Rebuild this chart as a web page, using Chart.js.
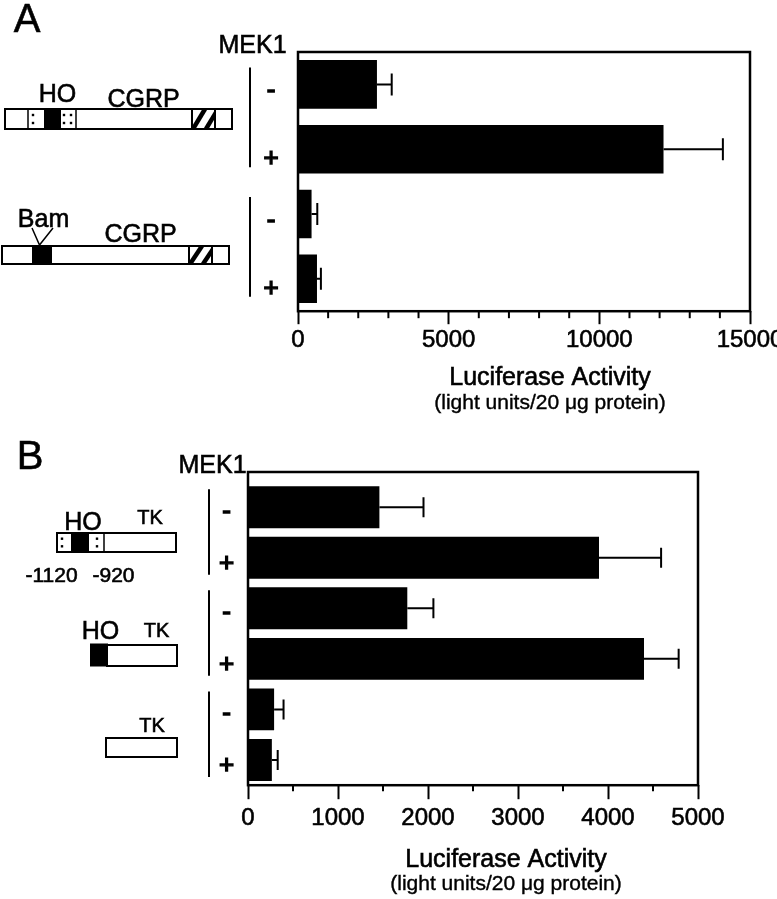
<!DOCTYPE html>
<html>
<head>
<meta charset="utf-8">
<script src="https://cdn.jsdelivr.net/npm/chart.js@4"></script>
<style>
  html, body { margin: 0; padding: 0; background: #fff; overflow: hidden; }
  #wrap { position: relative; width: 777px; height: 899px; overflow: hidden; }
  canvas { position: absolute; left: 0; }
</style>
</head>
<body>
<div id="wrap">
  <canvas id="chartA" width="800" height="440" style="top:0px"></canvas>
  <canvas id="chartB" width="800" height="459" style="top:440px"></canvas>
</div>
<script>
// panel A : HO-CGRP and Bam-CGRP constructs
var mekA = ['-', '+', '-', '+']
var valuesA = [2620, 12130, 450, 630]
var errorsA = [490, 1970, 190, 130]
var ticksA = [0, 5000, 10000, 15000]

// panel B : HO-TK, HO-TK (short) and TK alone
var mekB = ['-', '+', '-', '+', '-', '+']
var valuesB = [1460, 3900, 1770, 4400, 290, 265]
var errorsB = [490, 690, 290, 385, 105, 65]
var ticksB = [0, 1000, 2000, 3000, 4000, 5000]

var FONT = '"Liberation Sans", Arial, Helvetica, sans-serif'

function txt (ctx, s, x, y, size, stroke) {
  ctx.save()
  ctx.font = size + 'px ' + FONT
  ctx.fillStyle = '#000'
  ctx.strokeStyle = '#000'
  ctx.lineWidth = stroke || 0.6
  ctx.textAlign = 'center'
  ctx.textBaseline = 'alphabetic'
  ctx.fillText(s, x, y)
  ctx.strokeText(s, x, y)
  ctx.restore()
}

function box (ctx, x1, y1, x2, y2, fill) {
  ctx.save()
  ctx.lineWidth = 2
  ctx.strokeStyle = '#000'
  if (fill) { ctx.fillStyle = fill; ctx.fillRect(x1, y1, x2 - x1, y2 - y1) }
  ctx.strokeRect(x1, y1, x2 - x1, y2 - y1)
  ctx.restore()
}

function vline (ctx, x, y1, y2, w) {
  ctx.save()
  ctx.lineWidth = w || 2
  ctx.strokeStyle = '#000'
  ctx.beginPath()
  ctx.moveTo(x, y1)
  ctx.lineTo(x, y2)
  ctx.stroke()
  ctx.restore()
}

// two dots in a column, like the scan
function dots (ctx, x, y1, y2) {
  var h = y2 - y1
  ctx.save()
  ctx.fillStyle = '#000'
  ctx.fillRect(x - 1.2, y1 + h * 0.3 - 1.2, 2.4, 2.4)
  ctx.fillRect(x - 1.2, y1 + h * 0.7 - 1.2, 2.4, 2.4)
  ctx.restore()
}

function hatch (ctx, x1, y1, x2, y2) {
  ctx.save()
  ctx.beginPath()
  ctx.rect(x1, y1, x2 - x1, y2 - y1)
  ctx.clip()
  ctx.lineWidth = 4.5
  ctx.strokeStyle = '#000'
  for (var x = x1 + 1; x < x2 + 14; x += 13) {
    ctx.beginPath()
    ctx.moveTo(x, y2)
    ctx.lineTo(x + 12, y1)
    ctx.stroke()
  }
  ctx.restore()
  box(ctx, x1, y1, x2, y2)
}

// frame, minor ticks, error bars, MEK1 signs and brackets
function panelPlugin (cfg) {
  return {
    id: 'panel' + cfg.name,
    afterDatasetsDraw: function (chart) {
      var ctx = chart.ctx
      var xs = chart.scales.x
      var meta = chart.getDatasetMeta(0)
      ctx.save()
      ctx.strokeStyle = '#000'
      ctx.lineWidth = 2
      meta.data.forEach(function (bar, i) {
        var v = chart.data.datasets[0].data[i]
        var xe = xs.getPixelForValue(v + cfg.errors[i])
        ctx.beginPath()
        ctx.moveTo(bar.x, bar.y)
        ctx.lineTo(xe, bar.y)
        ctx.moveTo(xe, bar.y - cfg.cap / 2)
        ctx.lineTo(xe, bar.y + cfg.cap / 2)
        ctx.stroke()
      })
      ctx.restore()
    },
    afterDraw: function (chart) {
      var ctx = chart.ctx
      var a = chart.chartArea
      var xs = chart.scales.x
      var ys = chart.scales.y
      // box round the plot
      ctx.save()
      ctx.lineWidth = 2.5
      ctx.strokeStyle = '#000'
      ctx.strokeRect(a.left, a.top - cfg.frameExtra, a.right - a.left, a.bottom - a.top + cfg.frameExtra)
      // short minor ticks
      ctx.lineWidth = 2
      xs.ticks.forEach(function (t) {
        if (t.value % cfg.major !== 0) {
          var px = xs.getPixelForValue(t.value)
          ctx.beginPath()
          ctx.moveTo(px, a.bottom)
          ctx.lineTo(px, a.bottom + cfg.minorLen)
          ctx.stroke()
        }
      })
      ctx.restore()
      // - / + signs and brackets
      chart.data.labels.forEach(function (s, i) {
        var c = ys.getPixelForValue(i)
        var off = s === '-' ? cfg.minusOff : cfg.plusOff
        txt(ctx, s, cfg.signX, c + off, 26, 1.4)
        if (i % 2 === 0) {
          var c2 = ys.getPixelForValue(i + 1)
          vline(ctx, cfg.bracketX, c - cfg.brTop, c2 + cfg.brBottom, 2)
        }
      })
      // axis title
      txt(ctx, 'Luciferase Activity', cfg.titleX, cfg.titleY, 25)
      txt(ctx, '(light units/20 \u03bcg protein)', cfg.titleX, cfg.subY, 21, 0.4)
      cfg.extra(ctx)
    }
  }
}

function makeChart (id, labels, values, maxX, step, major, pad, tickPad, tickLen, barPct, plugin) {
  return new Chart(document.getElementById(id).getContext('2d'), {
    type: 'bar',
    data: {
      labels: labels,
      datasets: [{
        data: values,
        backgroundColor: '#000',
        borderWidth: 0,
        barPercentage: barPct,
        categoryPercentage: 1
      }]
    },
    options: {
      indexAxis: 'y',
      responsive: false,
      animation: false,
      layout: { padding: pad },
      plugins: { legend: { display: false }, tooltip: { enabled: false } },
      scales: {
        x: {
          min: 0,
          max: maxX,
          border: { display: false },
          grid: {
            drawOnChartArea: false,
            drawTicks: true,
            tickLength: tickLen,
            tickWidth: 2,
            tickColor: function (c) {
              return c.tick && c.tick.value % major === 0 ? '#000' : 'rgba(0,0,0,0)'
            }
          },
          ticks: {
            stepSize: step,
            autoSkip: false,
            maxRotation: 0,
            padding: tickPad,
            color: '#000',
            textStrokeColor: '#000',
            textStrokeWidth: 0.6,
            font: { family: FONT, size: 24 },
            callback: function (v) { return v % major === 0 ? String(v) : '' }
          }
        },
        y: { display: false }
      }
    },
    plugins: [plugin]
  })
}

// panel A
makeChart('chartA', mekA, valuesA, 15000, 1000, 5000,
  { left: 298, right: 50, top: 52, bottom: 83 }, 2, 13, 0.75,
  panelPlugin({
    name: 'A', errors: errorsA, cap: 22, frameExtra: 0, major: 5000, minorLen: 7,
    signX: 271, minusOff: 14, plusOff: 17, bracketX: 250, brTop: 17, brBottom: 18,
    titleX: 550, titleY: 385, subY: 409,
    extra: function (ctx) {
      txt(ctx, 'A', 27, 32, 40)
      txt(ctx, 'MEK1', 252.5, 53, 25)
      // HO-CGRP construct
      box(ctx, 5, 109, 232, 129, '#fff')
      vline(ctx, 28, 109, 129, 1.5)
      dots(ctx, 33, 109, 129)
      box(ctx, 45, 109, 60, 129, '#000')
      dots(ctx, 64, 109, 129)
      dots(ctx, 71, 109, 129)
      vline(ctx, 76, 109, 129, 1.5)
      hatch(ctx, 192, 109, 215, 129)
      txt(ctx, 'HO', 57.5, 102, 25)
      txt(ctx, 'CGRP', 143.5, 107, 25)
      // Bam-CGRP construct
      box(ctx, 2, 246, 229, 264, '#fff')
      box(ctx, 33, 246, 51, 264, '#000')
      hatch(ctx, 189, 246, 212, 264)
      ctx.save()
      ctx.lineWidth = 1.5
      ctx.beginPath()
      ctx.moveTo(32, 228)
      ctx.lineTo(39.5, 245)
      ctx.lineTo(53, 228)
      ctx.stroke()
      ctx.restore()
      txt(ctx, 'Bam', 43.5, 227, 25)
      txt(ctx, 'CGRP', 140.5, 242, 25)
    }
  }))

// panel B (canvas starts at y = 440)
makeChart('chartB', mekB, valuesB, 5000, 500, 1000,
  { left: 248, right: 102, top: 42, bottom: 61 }, 5, 14, 0.83,
  panelPlugin({
    name: 'B', errors: errorsB, cap: 20, frameExtra: 10, major: 1000, minorLen: 6,
    signX: 226.5, minusOff: 12, plusOff: 13, bracketX: 209, brTop: 18, brBottom: 17,
    titleX: 506, titleY: 427, subY: 450,
    extra: function (ctx) {
      txt(ctx, 'B', 30, 29, 40)
      txt(ctx, 'MEK1', 212.5, 33, 25)
      // HO-TK -1120/-920
      box(ctx, 57, 93, 176, 112, '#fff')
      dots(ctx, 62, 93, 112)
      box(ctx, 72, 93, 88, 112, '#000')
      dots(ctx, 97, 93, 112)
      vline(ctx, 104, 93, 112, 1.5)
      txt(ctx, 'HO', 83, 90, 25)
      txt(ctx, 'TK', 150, 83.5, 20)
      txt(ctx, '-1120', 51.5, 141.5, 21)
      txt(ctx, '-920', 113.5, 141.5, 21)
      // HO-TK
      box(ctx, 107, 205, 177, 226, '#fff')
      box(ctx, 91, 204.5, 107, 225.5, '#000')
      txt(ctx, 'HO', 100.5, 198.5, 25)
      txt(ctx, 'TK', 156.5, 196.5, 20)
      // TK alone
      box(ctx, 106, 298, 177, 317, '#fff')
      txt(ctx, 'TK', 152, 291.5, 20)
    }
  }))
</script>
</body>
</html>
